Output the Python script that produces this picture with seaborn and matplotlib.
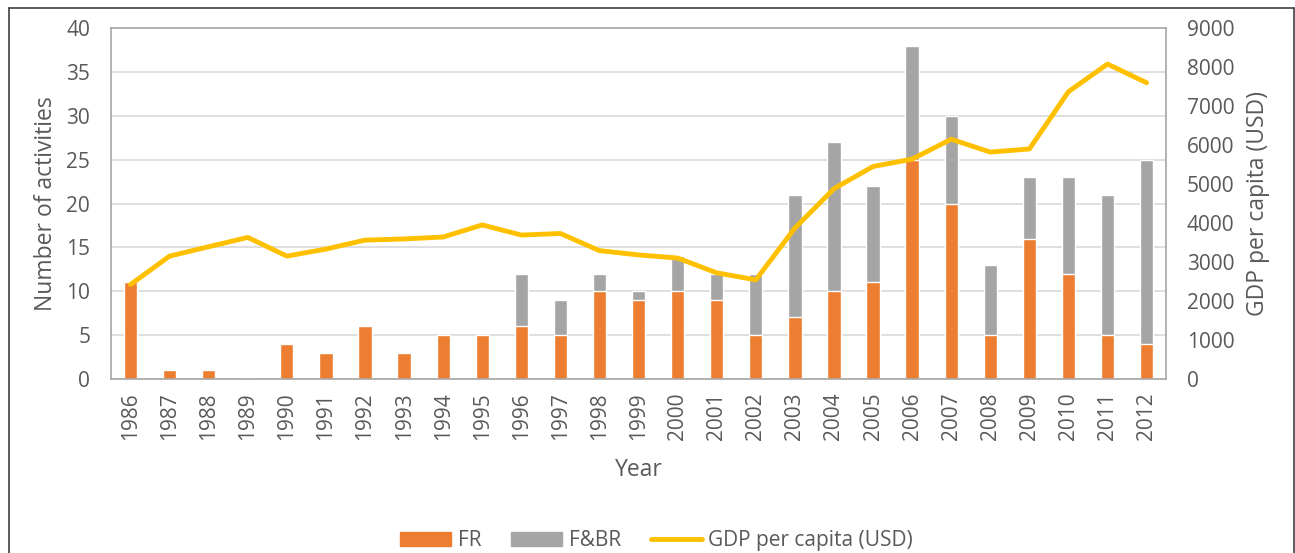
import pandas as pd
import matplotlib.pyplot as plt
import seaborn as sns
import numpy as np
from matplotlib.patches import Patch
from matplotlib.lines import Line2D

years = list(range(1986, 2013))
fr = [11, 1, 1, 0, 4, 3, 6, 3, 5, 5, 6, 5, 10, 9, 10, 9, 5, 7, 10, 11, 25, 20, 5, 16, 12, 5, 4]
fbr = [0, 0, 0, 0, 0, 0, 0, 0, 0, 0, 6, 4, 2, 1, 4, 3, 7, 14, 17, 11, 13, 10, 8, 7, 11, 16, 21]
gdp = [2420, 3150, 3390, 3630, 3150, 3330, 3560, 3590, 3640, 3950, 3690, 3730, 3290, 3180,
       3100, 2720, 2540, 3870, 4880, 5450, 5640, 6150, 5820, 5900, 7370, 8080, 7600]

c_fr = '#ED7D31'
c_fbr = '#A5A5A5'
c_gdp = '#FFC000'
txt = '#595959'

sns.set_style('white')
plt.rcParams['font.family'] = ['Open Sans', 'DejaVu Sans']

df = pd.DataFrame({'Year': [str(y) for y in years], 'FR': fr, 'FBR': fbr})
df['Total'] = df['FR'] + df['FBR']

fig, ax = plt.subplots(figsize=(12.95, 5.53), dpi=100)
fig.subplots_adjust(left=0.0857, right=0.9005, top=0.949, bottom=0.315)

# stacked bars: total in grey, FR over it
sns.barplot(data=df, x='Year', y='Total', color=c_fbr, width=0.34, saturation=1, ax=ax)
sns.barplot(data=df, x='Year', y='FR', color=c_fr, width=0.34, saturation=1, ax=ax)

ax.set_ylim(0, 40)
ax.set_yticks(range(0, 41, 5))
ax.set_xlim(-0.5, len(years) - 0.5)
ax.grid(axis='y', color='#D9D9D9', linewidth=1.2)
ax.set_axisbelow(True)
for s in ax.spines.values():
    s.set_color('#A6A6A6')
    s.set_linewidth(1.2)
ax.tick_params(axis='x', rotation=90, labelsize=15, colors=txt, length=0, pad=10)
ax.tick_params(axis='y', labelsize=15, colors=txt, length=0, pad=15)
ax.set_xlabel('Year', fontsize=16.5, color=txt, labelpad=13)
ax.set_ylabel('Number of activities', fontsize=16.5, color=txt, labelpad=6)

ax2 = ax.twinx()
sns.lineplot(x=np.arange(len(years)), y=gdp, color=c_gdp, linewidth=3.5, ax=ax2)
ax2.set_ylim(0, 9000)
ax2.set_yticks(range(0, 9001, 1000))
ax2.tick_params(axis='y', labelsize=15, colors=txt, length=0, pad=15)
ax2.set_ylabel('GDP per capita (USD)', fontsize=16.5, color=txt, labelpad=8)
for s in ax2.spines.values():
    s.set_visible(False)

handles = [Patch(color=c_fr, label='FR'),
           Patch(color=c_fbr, label='F&BR'),
           Line2D([0], [0], color=c_gdp, linewidth=3.5, label='GDP per capita (USD)')]
leg = fig.legend(handles=handles, loc='center', bbox_to_anchor=(0.507, 0.022), ncol=3,
                 frameon=False, fontsize=15, handlelength=2.45, handleheight=0.6,
                 columnspacing=1.45, handletextpad=0.3)
for t in leg.get_texts():
    t.set_color(txt)

# outer chart frame (bottom edge is cut off in the original)
for xs, ys in [([0.007, 0.007], [0.0, 0.985]), ([0.007, 0.999], [0.985, 0.985]), ([0.999, 0.999], [0.0, 0.985])]:
    fig.add_artist(Line2D(xs, ys, color='#404040', linewidth=1.2, transform=fig.transFigure))

fig.savefig('out.png', dpi=100, facecolor='white')
